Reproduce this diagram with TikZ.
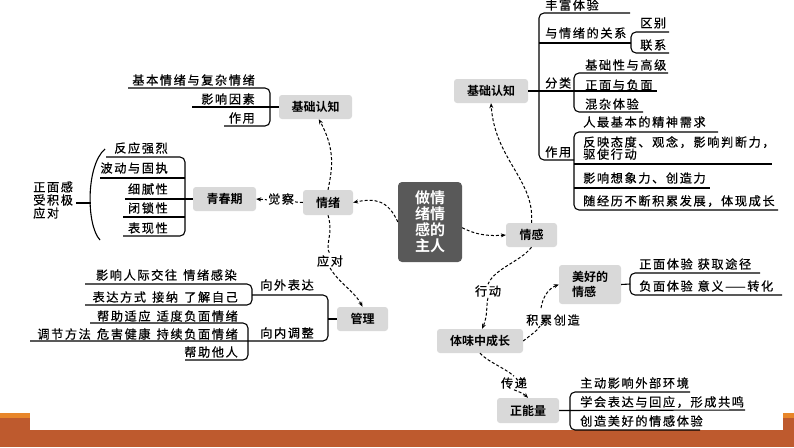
\documentclass[tikz,border=0pt]{standalone}
\usepackage{fontspec}
\newfontfamily\cjk{Noto Sans CJK SC}[BoldFont={Noto Sans CJK SC Bold}]
\newfontfamily\cjkls{Noto Sans CJK SC}[LetterSpace=13, FakeBold=0.5]
\usetikzlibrary{arrows.meta}
\definecolor{barD}{HTML}{BE5A2E}
\definecolor{barL}{HTML}{E8862A}
\definecolor{boxgray}{HTML}{D9D9D9}
\definecolor{darkbox}{HTML}{595959}
\tikzset{
  box/.style={fill=boxgray, rounded corners=3pt, inner sep=0pt, font=\cjk\bfseries\fontsize{12}{12}\selectfont},
  centerbox/.style={fill=darkbox, rounded corners=4pt, inner sep=0pt, text=white, align=center, font=\cjk\bfseries\fontsize{15}{16}\selectfont},
  item/.style={inner sep=0pt, font=\cjkls\fontsize{12.2}{12}\selectfont},
  lbl/.style={fill=white, inner sep=1pt, font=\cjkls\fontsize{12.2}{12}\selectfont},
  tl/.style={line width=1.1pt, rounded corners=5pt, black},
  dar/.style={line width=1pt, dash pattern=on 3pt off 2pt, -{Stealth[length=5pt,width=4pt]}},
  dln/.style={line width=1pt, dash pattern=on 3pt off 2pt}
}
\begin{document}
\begin{tikzpicture}[x=1pt,y=-1pt]
\useasboundingbox (0,0) rectangle (794,447);
\fill[white] (0,0) rectangle (794,447);
% bottom bar
\fill[barD] (0,430) rectangle (794,447);
\fill[barD] (0,413) rectangle (30,430);
\fill[barL] (0,413) rectangle (30,418);
\fill[barD] (783,413) rectangle (794,430);
\fill[barL] (783,413) rectangle (794,418);

% boxes
\node[centerbox, minimum width=64pt, minimum height=80pt] (c) at (430,222) {做情\\绪情\\感的\\主人};
\node[box, minimum width=51pt, minimum height=24pt] (qg) at (531.5,235) {情感};
\node[box, minimum width=74pt, minimum height=24pt] (jcR) at (491,91) {基础认知};
\node[box, minimum width=73pt, minimum height=24pt] (jcL) at (315.5,107) {基础认知};
\node[box, minimum width=50pt, minimum height=25pt] (qx) at (328,202.5) {情绪};
\node[box, minimum width=63pt, minimum height=24pt] (qcq) at (224.5,199) {青春期};
\node[box, minimum width=51pt, minimum height=24pt] (gl) at (362.5,319) {管理};
\node[box, minimum width=62pt, minimum height=39pt, align=left, font=\cjk\bfseries\fontsize{12}{15}\selectfont] (mh) at (590,284.5) {美好的\\情感};
\node[box, minimum width=86pt, minimum height=24pt] (tw) at (480,341) {体味中成长};
\node[box, minimum width=62pt, minimum height=25pt] (znl) at (528,410.5) {正能量};

% dashed connectors
\draw[dar] (c.-10) .. controls (478,236) and (492,236) .. (qg.west);
\draw[dar] (c.west) .. controls (388,200) and (375,198) .. (qx.east);
\draw[dar] (qx.north) .. controls (332,170) and (336,150) .. (jcL.-75);
\draw[dar] (qx.west) -- (qcq.east);
\node[lbl] (jc) at (281,199) {觉察};
\node[lbl] (yd) at (330,261) {应对};
\draw[dln] (qx.south) .. controls (334,235) and (324,245) .. (yd.north);
\draw[dar] (yd.south) .. controls (338,282) and (355,292) .. (gl.north);
\draw[dar] (qg.north) .. controls (535,180) and (495,160) .. (jcR.south);
\node[lbl] (xd) at (488,291) {行动};
\draw[dln] (qg.south) .. controls (520,262) and (495,268) .. (xd.north);
\draw[dar] (xd.south) .. controls (486,305) and (488,315) .. (tw.80);
\node[lbl] (jl) at (553,320) {积累创造};
\draw[dln] (tw.east) .. controls (532,334) and (538,330) .. (540,326);
\draw[dar] (541,308) .. controls (543,295) and (550,288) .. (mh.west);
\node[lbl] (cd) at (514,383) {传递};
\draw[dln] (tw.south) .. controls (488,362) and (505,368) .. (cd.north);
\draw[dar] (cd.south) .. controls (520,392) and (524,394) .. (znl.north);

% right basic tree
\draw[tl] (630,13) -- (539,13) -- (539,160) -- (574,160);
\draw[tl] (jcR.east) -- (657,91);
\draw[tl] (539,43) -- (631,43);
\draw[tl] (669,32) -- (631,32) -- (631,53) -- (669,53);
\draw[tl] (668,73) -- (574,73) -- (574,112) -- (643,112);
\draw[tl] (718,132) -- (574,132) -- (574,210) -- (778,210);
\draw[tl] (574,164) -- (772,164);
\draw[tl] (574,188) -- (710,188);
\node[item, anchor=west] (r1) at (545,5) {丰富体验};
\node[item, anchor=west] (r2) at (545,33) {与情绪的关系};
\node[item, anchor=west] (r3) at (640,23) {区别};
\node[item, anchor=west] (r4) at (640,45) {联系};
\node[item, anchor=west] (r5) at (545,83) {分类};
\node[item, anchor=west] (r6) at (585,65) {基础性与高级};
\node[item, anchor=west] (r7) at (585,85) {正面与负面};
\node[item, anchor=west] (r8) at (585,104) {混杂体验};
\node[item, anchor=west] (r9) at (545,152) {作用};
\node[item, anchor=west] (r10) at (583,122) {人最基本的精神需求};
\node[item, anchor=west, align=left, font=\cjkls\fontsize{12.2}{12}\selectfont] (r11) at (583,148) {反映态度、观念，影响判断力，\\驱使行动};
\node[item, anchor=west] (r12) at (583,178) {影响想象力、创造力};
\node[item, anchor=west] (r13) at (583,201) {随经历不断积累发展，体现成长};

% left basic tree
\draw[tl] (128,88) -- (270,88) -- (270,126) -- (224,126);
\draw[tl] (jcL.west) -- (192,107);
\node[item, anchor=east] (l1) at (255,80) {基本情绪与复杂情绪};
\node[item, anchor=east] (l2) at (255,99) {影响因素};
\node[item, anchor=east] (l3) at (255,118) {作用};

% youth tree
\draw[tl] (106,157) -- (185,157) -- (185,236) -- (123,236);
\draw[tl] (100,178) -- (185,178);
\draw[tl] (123,217) -- (185,217);
\draw[tl] (qcq.west) -- (125,199);
\node[item, anchor=east] (y1) at (168,148) {反应强烈};
\node[item, anchor=east] (y2) at (168,168) {波动与固执};
\node[item, anchor=east] (y3) at (168,189) {细腻性};
\node[item, anchor=east] (y4) at (168,208) {闭锁性};
\node[item, anchor=east] (y5) at (168,228) {表现性};
\node[item, anchor=west, align=left, font=\cjkls\fontsize{12.2}{13}\selectfont] (zm) at (33,200) {正面感\\受积极\\应对};
\draw[tl, rounded corners=0pt] (105,149) .. controls (86,165) and (86,225) .. (100,240);
\draw[tl] (76,203) -- (91,203);

% management tree
\draw[tl] (252,295) -- (328,295) -- (328,341) -- (30,341);
\draw[tl] (gl.west) -- (328,319);
\draw[tl] (85,284) -- (252,284) -- (252,305) -- (85,305);
\draw[tl] (90,323) -- (248,323) -- (248,360) -- (185,360);
\node[item, anchor=west] (m1) at (260,285) {向外表达};
\node[item, anchor=west] (m2) at (260,333) {向内调整};
\node[item, anchor=east] (m3) at (237,275) {影响人际交往\hspace{0.5em}情绪感染};
\node[item, anchor=east] (m4) at (238,297) {表达方式\hspace{0.5em}接纳\hspace{0.5em}了解自己};
\node[item, anchor=east] (m5) at (238,316) {帮助适应\hspace{0.5em}适度负面情绪};
\node[item, anchor=east] (m6) at (238,334) {调节方法\hspace{0.5em}危害健康\hspace{0.5em}持续负面情绪};
\node[item, anchor=east] (m7) at (238,352) {帮助他人};

% good emotions tree
\draw[tl] (mh.east) -- (630,284);
\draw[tl] (760,273) -- (630,273) -- (630,295) -- (782,295);
\node[item, anchor=west] (g1) at (639,264) {正面体验\hspace{0.4em}获取途径};
\node[item, anchor=west] (g2) at (639,286) {负面体验\hspace{0.4em}意义——转化};

% positive energy tree
\draw[tl] (znl.east) -- (745,410);
\draw[tl] (690,392) -- (570,392) -- (570,430) -- (700,430);
\node[item, anchor=west] (p1) at (580,383) {主动影响外部环境};
\node[item, anchor=west] (p2) at (580,402) {学会表达与回应，形成共鸣};
\node[item, anchor=west] (p3) at (580,421) {创造美好的情感体验};
\end{tikzpicture}
\end{document}
